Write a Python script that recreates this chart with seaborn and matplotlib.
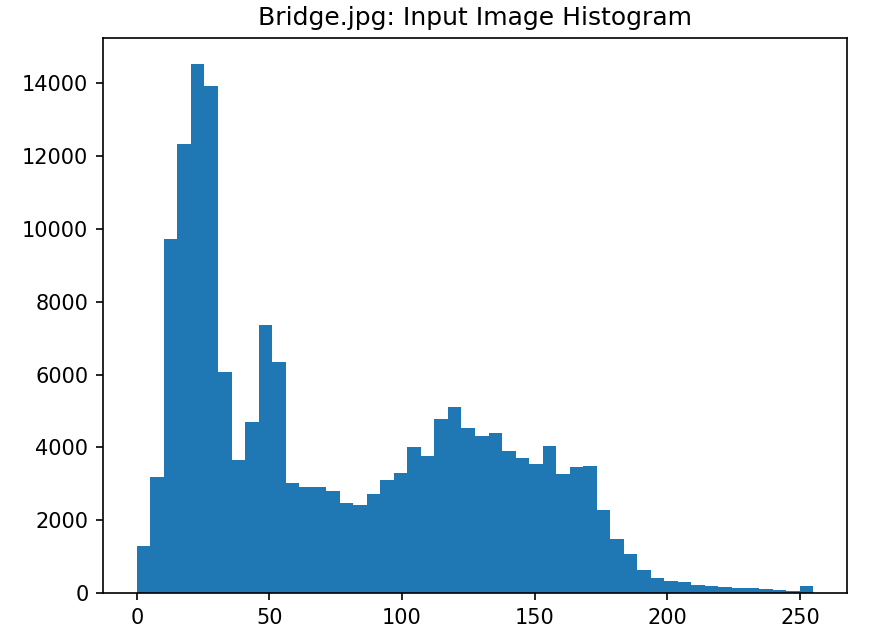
import numpy as np
import pandas as pd
import matplotlib
matplotlib.use("Agg")
import matplotlib.pyplot as plt
import seaborn as sns

title = "Bridge.jpg: Input Image Histogram"
counts = [1290, 3200, 9730, 12340, 14520, 13940, 6070, 3650, 4700, 7360,
          6340, 3010, 2900, 2900, 2790, 2470, 2410, 2710, 3100, 3300,
          4000, 3750, 4770, 5100, 4520, 4310, 4390, 3890, 3720, 3540,
          4030, 3260, 3450, 3480, 2270, 1470, 1060, 620, 400, 320,
          295, 215, 185, 160, 140, 140, 110, 80, 45, 190]
pixel_min, pixel_max, n_bins = 0, 255, 50

edges = np.linspace(pixel_min, pixel_max, n_bins + 1)
centers = (edges[:-1] + edges[1:]) / 2
df = pd.DataFrame({"value": centers, "count": counts})

fig = plt.figure(figsize=(869 / 150, 641 / 150), dpi=150)
ax = fig.add_axes([103 / 869, (641 - 593) / 641, (847 - 103) / 869, (593 - 38) / 641])
sns.histplot(data=df, x="value", weights="count", bins=n_bins,
             binrange=(pixel_min, pixel_max), color="#1f77b4",
             alpha=1, linewidth=0, edgecolor="none", ax=ax)
ax.set_xlabel("")
ax.set_ylabel("")
ax.set_xlim(-12.75, 267.75)
ax.set_ylim(0, max(counts) * 1.05)
ax.set_title(title, fontsize=12)
fig.savefig("out.png", dpi=150)
